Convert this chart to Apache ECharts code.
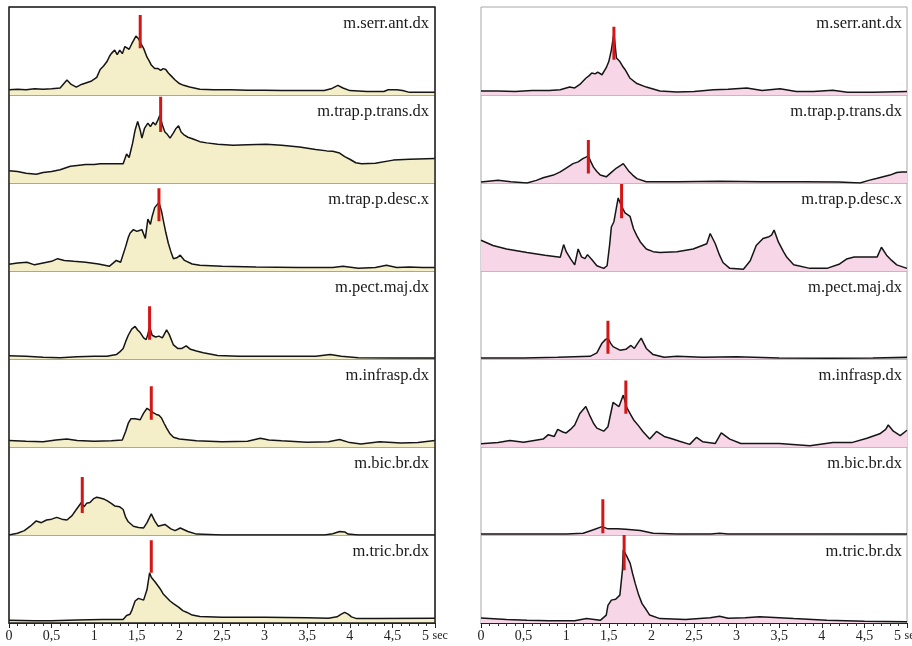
<!DOCTYPE html>
<html>
<head>
<meta charset="utf-8">
<script src="https://cdn.jsdelivr.net/npm/echarts@6/dist/echarts.min.js"></script>
<style>
  html, body { margin: 0; padding: 0; background: #fff; }
  #chart { width: 912px; height: 646px; }
</style>
</head>
<body>
<div id="chart"></div>
<script>
  // muscle names, top to bottom (same in both columns)
  const muscles = ["m.serr.ant.dx", "m.trap.p.trans.dx", "m.trap.p.desc.x", "m.pect.maj.dx", "m.infrasp.dx", "m.bic.br.dx", "m.tric.br.dx"];

  // x tick labels (seconds)
  const tickLabels = ["0", "0,5", "1", "1,5", "2", "2,5", "3", "3,5", "4", "4,5", "5 {s|sec}"];

  // left column envelopes: [time s, amplitude % of panel]
  const leftSerrAnt = [[0,6],[0.1,6.5],[0.2,6],[0.3,7],[0.4,6.5],[0.5,7],[0.6,8],[0.68,17],[0.73,12],[0.79,9],[0.85,12],[0.91,14],[0.97,16],[1.03,20],[1.07,29],[1.11,33],[1.15,38],[1.18,44],[1.2,47],[1.22,45],[1.24,51],[1.27,46],[1.3,51],[1.33,47],[1.36,55],[1.38,57],[1.41,52],[1.44,58],[1.46,60],[1.49,67],[1.52,64],[1.55,58],[1.58,53],[1.62,43],[1.65,38],[1.67,34],[1.71,30],[1.75,30],[1.78,28],[1.81,30],[1.84,29],[1.87,25],[1.9,22],[1.95,17],[2.0,13],[2.05,11],[2.12,9],[2.24,6.5],[2.4,6],[2.6,6],[2.8,5.5],[3.0,5.5],[3.2,5],[3.4,5],[3.6,5],[3.7,5],[3.78,7],[3.86,11],[3.92,8],[4.0,5],[4.2,4],[4.4,4],[4.45,6],[4.55,6],[4.62,5],[4.7,3],[4.85,3],[5,3]];
  const leftTrapTrans = [[0,14],[0.1,13],[0.2,11],[0.32,10],[0.4,12],[0.5,13],[0.6,15],[0.72,19],[0.8,20],[0.9,21],[1.0,21],[1.07,22],[1.15,22],[1.25,22],[1.34,22],[1.38,33],[1.41,29],[1.45,45],[1.48,60],[1.51,70],[1.54,60],[1.56,51],[1.59,62],[1.63,68],[1.66,64],[1.69,69],[1.72,66],[1.75,72],[1.77,77],[1.8,66],[1.83,58],[1.86,55],[1.89,51],[1.93,57],[1.96,62],[1.99,65],[2.02,58],[2.05,55],[2.1,52],[2.16,50],[2.24,47],[2.32,45.6],[2.45,44],[2.63,43],[2.8,43.5],[3.02,44],[3.2,43],[3.41,41],[3.6,38],[3.73,36.5],[3.8,36],[3.88,34],[3.94,30],[4.0,27],[4.07,23],[4.14,22],[4.3,22.5],[4.51,26],[4.7,27],[5,27.7]];
  const leftTrapDesc = [[0,7.7],[0.1,9],[0.21,10],[0.3,7],[0.4,9],[0.5,11],[0.57,14],[0.65,12],[0.76,11],[0.9,10],[1.05,8],[1.18,5.5],[1.26,12],[1.31,10],[1.37,28],[1.4,38],[1.42,43],[1.46,47],[1.5,45],[1.53,46],[1.56,47],[1.6,37],[1.63,59],[1.66,53],[1.68,62],[1.71,72],[1.76,78],[1.79,68],[1.81,58],[1.84,44],[1.87,31.5],[1.9,22],[1.93,14],[1.97,15],[2.01,18],[2.06,12],[2.15,8],[2.24,6.5],[2.5,5.5],[2.9,4.5],[3.4,4],[3.8,4],[3.92,5.5],[4.1,3],[4.3,4],[4.43,6.5],[4.55,4],[4.7,4.5],[4.85,4],[5,4]];
  const leftPectMaj = [[0,3.8],[0.2,3],[0.4,2],[0.6,1.5],[0.8,2.5],[1.0,3],[1.15,3],[1.26,5],[1.3,8],[1.34,12],[1.37,20],[1.4,27],[1.44,34],[1.48,37],[1.51,33],[1.54,30],[1.58,24],[1.61,22],[1.63,28],[1.65,37],[1.68,27],[1.72,25],[1.76,26],[1.8,24],[1.85,33],[1.88,28],[1.93,16],[1.98,12],[2.03,12],[2.08,15],[2.13,11],[2.2,9],[2.28,7],[2.45,4],[2.7,3],[3.0,3],[3.4,3],[3.6,3],[3.77,5],[3.9,3],[4.1,1.5],[4.5,1],[5,1]];
  const leftInfrasp = [[0,7.5],[0.2,6.5],[0.4,6],[0.55,8],[0.68,9],[0.8,7.5],[1.0,6.5],[1.2,7],[1.33,8],[1.37,18],[1.4,27],[1.43,32],[1.48,32],[1.54,31],[1.58,38.5],[1.62,44],[1.65,42],[1.69,39],[1.73,37],[1.76,36],[1.79,33],[1.82,27],[1.85,21.5],[1.89,15],[1.93,11],[2.0,9],[2.2,7],[2.5,6],[2.8,6.5],[2.95,10],[3.05,8],[3.2,7],[3.5,5.5],[3.75,6],[3.88,8.5],[4.0,5],[4.13,3.5],[4.35,6],[4.6,4.5],[4.8,5],[5,7.5]];
  const leftBicBr = [[0,0],[0.1,2],[0.18,5],[0.25,10],[0.32,16],[0.38,14],[0.44,17],[0.5,18],[0.56,20],[0.62,18],[0.68,17],[0.74,22],[0.79,29],[0.85,37],[0.88,32],[0.91,36],[0.95,37],[0.99,41],[1.03,43],[1.07,42],[1.11,41],[1.15,39],[1.2,36],[1.24,33],[1.3,32],[1.34,29],[1.37,20],[1.4,15],[1.46,10],[1.52,8.5],[1.58,8],[1.62,14],[1.67,24],[1.71,16],[1.75,10],[1.83,12],[1.9,7],[1.95,5],[2.01,8],[2.1,4],[2.2,1],[2.5,0],[3.0,0],[3.7,0],[3.8,1.5],[3.88,4],[3.94,3.5],[3.98,1],[4.1,0],[5,0]];
  const leftTricBr = [[0,3],[0.3,2.5],[0.5,2.5],[0.8,3.5],[1.1,4],[1.34,4],[1.38,8.6],[1.42,10],[1.44,14],[1.48,25],[1.52,28],[1.54,29],[1.58,26],[1.62,38],[1.65,57],[1.67,52],[1.69,50],[1.72,46],[1.75,42],[1.78,38],[1.81,33],[1.85,29],[1.89,25],[1.93,22],[1.99,18],[2.04,14],[2.09,12],[2.15,9],[2.24,7.5],[2.5,6.5],[3.0,6.5],[3.5,6],[3.75,5.5],[3.85,7],[3.9,10],[3.94,12],[3.98,10],[4.02,7],[4.08,5],[4.3,5],[5,5.5]];

  // right column envelopes
  const rightSerrAnt = [[0,4.5],[0.2,4.5],[0.4,4],[0.6,5],[0.8,5],[0.93,6],[1.04,9],[1.1,8],[1.16,12],[1.23,19],[1.27,22],[1.3,25],[1.34,24],[1.37,26],[1.42,23],[1.47,31],[1.5,38],[1.53,51],[1.56,70],[1.59,42],[1.63,38],[1.66,33],[1.69,29],[1.75,19],[1.83,13],[1.94,9],[2.1,4.5],[2.3,3.5],[2.5,4],[2.73,6],[2.9,6.5],[3.12,8],[3.3,5],[3.51,7],[3.7,4],[3.9,4],[4.13,5.5],[4.3,3],[4.6,3],[5,4]];
  const rightTrapTrans = [[0,1],[0.2,3],[0.35,1.5],[0.54,0],[0.65,3],[0.73,6],[0.85,9],[0.93,12.6],[1.0,17],[1.08,22],[1.14,24],[1.2,28],[1.26,30.6],[1.29,24],[1.32,18],[1.36,13],[1.4,9],[1.47,7],[1.53,12],[1.59,17],[1.64,20],[1.67,22],[1.7,18],[1.73,14],[1.78,9],[1.83,5],[1.94,1.5],[2.3,1.5],[2.8,2],[3.3,1.5],[3.8,1.5],[4.2,1],[4.45,0],[4.55,3],[4.64,5],[4.72,7],[4.8,9],[4.88,12],[4.94,12.6],[5,12.6]];
  const rightTrapDesc = [[0,35],[0.14,29],[0.3,25],[0.54,21],[0.75,18],[0.93,15.5],[0.97,30],[1.0,22],[1.05,14],[1.1,7],[1.14,25],[1.18,16],[1.22,14],[1.25,18.6],[1.3,13],[1.36,6],[1.44,3],[1.48,6],[1.51,30],[1.53,50],[1.56,56],[1.58,54],[1.61,83],[1.65,73.6],[1.69,66],[1.72,64],[1.75,62],[1.79,48],[1.83,40],[1.87,33],[1.94,25],[2.02,22],[2.1,21],[2.3,22],[2.49,25],[2.65,31],[2.69,42.6],[2.75,31],[2.8,18],[2.84,9.7],[2.92,3],[3.08,2],[3.16,11.6],[3.23,29],[3.31,37],[3.38,39],[3.41,40.7],[3.44,46.5],[3.49,33],[3.55,22],[3.59,15.5],[3.67,7],[3.86,3],[4.06,3],[4.21,8],[4.29,13.6],[4.38,16],[4.45,16],[4.65,16],[4.7,27],[4.76,18],[4.82,12],[4.88,7],[5,3]];
  const rightPectMaj = [[0,1],[0.5,1],[0.9,2],[1.28,3],[1.36,7],[1.42,18],[1.46,22],[1.49,23.7],[1.52,18],[1.55,14],[1.63,10],[1.7,11],[1.76,15.4],[1.8,12],[1.84,18],[1.88,23.7],[1.94,12],[2.02,5],[2.15,2],[2.3,3],[2.6,2],[3.0,2.5],[3.5,1],[4.1,0.8],[4.6,1],[5,2]];
  const rightInfrasp = [[0,3.8],[0.2,5],[0.34,7.5],[0.5,5.5],[0.73,9],[0.79,14],[0.86,12],[0.9,20],[0.96,17],[1.0,16],[1.05,20],[1.1,25],[1.16,38],[1.23,46],[1.28,35],[1.32,27],[1.36,21.5],[1.44,18],[1.49,23],[1.55,50.6],[1.59,48],[1.62,46],[1.67,59],[1.71,45],[1.75,38],[1.79,31],[1.85,24],[1.9,17.7],[1.98,9],[2.06,17.7],[2.15,12],[2.25,9],[2.33,6.5],[2.45,3],[2.53,11],[2.6,6],[2.75,4],[2.82,16],[2.92,9],[3.05,4],[3.5,4],[3.86,1.5],[4.13,5],[4.35,5],[4.53,10],[4.68,15],[4.75,20],[4.78,25],[4.84,18],[4.92,13],[5,19]];
  const rightBicBr = [[0,1],[0.5,1],[1.0,1],[1.2,2],[1.32,6],[1.42,9.5],[1.49,7],[1.6,7],[1.7,6.5],[1.87,5],[2.02,2],[2.3,1],[2.7,1],[2.8,2],[2.9,1],[4,1],[5,1]];
  const rightTricBr = [[0,5.7],[0.3,4],[0.54,3],[0.8,2.5],[1.1,2.5],[1.24,5],[1.33,4],[1.4,3],[1.47,9],[1.49,20],[1.53,26],[1.58,27],[1.63,31.7],[1.66,60],[1.67,83],[1.71,76],[1.75,68],[1.78,56],[1.81,45],[1.85,32],[1.89,22],[1.94,15],[1.98,9],[2.1,5],[2.4,4],[2.69,6],[2.8,7.6],[2.9,5.5],[3.1,6],[3.27,7],[3.5,6],[3.67,5],[4.06,3],[4.5,2],[5,1.5]];

  // red onset markers: [time s, lower %, upper %]
  const leftMarkers = [[1.54,53,91],[1.78,58,98],[1.76,56.5,94],[1.65,22,60],[1.67,31,69],[0.86,25,66],[1.67,57,94]];
  const rightMarkers = [[1.56,40,77.5],[1.26,10.7,49],[1.65,60,99],[1.49,6,43.6],[1.70,37.7,75.5],[1.43,2,40.7],[1.68,60,100]];

  const leftSeries = [leftSerrAnt, leftTrapTrans, leftTrapDesc, leftPectMaj, leftInfrasp, leftBicBr, leftTricBr];
  const rightSeries = [rightSerrAnt, rightTrapTrans, rightTrapDesc, rightPectMaj, rightInfrasp, rightBicBr, rightTricBr];

  const chart = echarts.init(document.getElementById("chart"));

  const panelTop = 7, panelH = 88, colW = 426;
  const columns = [
    { left: 9, data: leftSeries, markers: leftMarkers, fill: "#f4efc8", border: "#8a8a80" },
    { left: 481, data: rightSeries, markers: rightMarkers, fill: "#f6d6e7", border: "#a8a8a8" },
  ];

  const grid = [], xAxis = [], yAxis = [], series = [], title = [];
  const serif = "'Liberation Serif', 'Times New Roman', serif";

  columns.forEach((col, c) => {
    muscles.forEach((name, i) => {
      const idx = grid.length;
      const isBottom = i === muscles.length - 1;
      grid.push({
        left: col.left, top: panelTop + i * panelH, width: colW, height: panelH,
        outerBoundsMode: "none", containLabel: false,
        show: true, borderColor: col.border, borderWidth: 1, backgroundColor: "transparent",
      });
      xAxis.push({
        gridIndex: idx, type: "value", min: 0, max: 5, interval: 0.5,
        show: isBottom,
        axisLine: { show: true, onZero: false, lineStyle: { color: "#222", width: 1.2 } },
        axisTick: { show: true, length: 5, lineStyle: { color: "#222" } },
        minorTick: { show: true, splitNumber: 5, length: 3, lineStyle: { color: "#333" } },
        splitLine: { show: false },
        axisLabel: {
          margin: 6, color: "#222", fontFamily: serif, fontSize: 14, hideOverlap: false,
          showMinLabel: true, showMaxLabel: true,
          formatter: (v) => tickLabels[Math.round(v * 2)],
          rich: { s: { fontFamily: serif, fontSize: 12, color: "#222" } },
        },
      });
      yAxis.push({ gridIndex: idx, type: "value", min: 0, max: 100, show: false });
      series.push({
        type: "line", xAxisIndex: idx, yAxisIndex: idx,
        data: col.data[i], showSymbol: false, symbol: "none",
        lineStyle: { color: "#151515", width: 1.5 },
        areaStyle: { color: col.fill, opacity: 1 },
        silent: true, z: 2,
      });
      const m = col.markers[i];
      series.push({
        type: "line", xAxisIndex: idx, yAxisIndex: idx,
        data: [[m[0], m[1]], [m[0], m[2]]], symbol: "none",
        lineStyle: { color: "#d41616", width: 3 }, silent: true, z: 5,
      });
      title.push({
        text: name, right: c === 0 ? 912 - 429 : 10, top: panelTop + i * panelH + 8, padding: 0,
        textStyle: { fontFamily: serif, fontSize: 16.5, fontWeight: "normal", color: "#1a1a1a" },
      });
    });
  });

  chart.setOption({
    animation: false,
    backgroundColor: "#fff",
    title, grid, xAxis, yAxis, series,
    graphic: [
      { type: "rect", shape: { x: 9, y: panelTop, width: colW, height: panelH * 7 }, style: { fill: "none", stroke: "#222", lineWidth: 1.5 }, z: 10, silent: true },
    ],
  });
</script>
</body>
</html>
